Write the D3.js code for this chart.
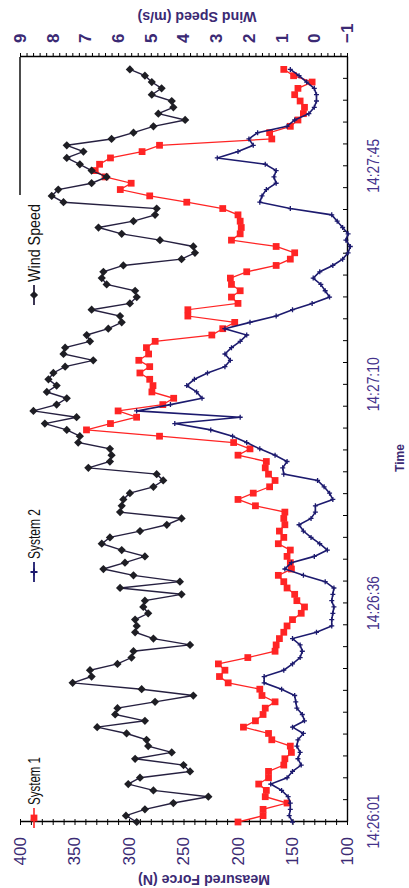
<!DOCTYPE html>
<html>
<head>
<meta charset="utf-8">
<script src="https://cdn.jsdelivr.net/npm/d3@7"></script>
<style>
    body { margin: 0; background: #fff; }
    svg { display: block; font-family: "Liberation Sans", Arial, sans-serif; }
</style>
</head>
<body>
<div class="chart"></div>
<script>
// ------------------------------------------------ Data ------------------------------------------------------------

// one sample per second, axis runs 0.0014 days (120.96 s) with a major unit of 0.0004 days
const timeLabels = ["14:26:01", "14:26:36", "14:27:10", "14:27:45"];
const timeLabelSeconds = [0, 34.56, 69.12, 103.68];
const axisEndSeconds = 120.96;
const minorStepSeconds = 3.456;

const seriesNames = ["System 1", "System 2", "Wind Speed"];
const forceTicks = [100, 150, 200, 250, 300, 350, 400];
const windTicks = [-1, 0, 1, 2, 3, 4, 5, 6, 7, 8, 9];

// measured force (N)
const system1 = [
    200, 177, 177, 155, 175, 174, 181, 172, 172, 158,
    157, 151, 152, 169, 172, 195, 184, 177, 175, 166,
    178, 180, 209, 217, 212, 218, 191, 166, 165, 162,
    158, 155, 150, 142, 139, 146, 148, 155, 158, 163,
    151, 152, 155, 152, 163, 158, 162, 157, 158, 157,
    184, 200, 186, 171, 166, 172, 175, 174, 200, 189,
    204, 272, 339, 317, 293, 310, 269, 259, 279, 278,
    281, 290, 281, 291, 282, 284, 276, 224, 214, 203,
    246, 246, 200, 206, 198, 206, 207, 192, 165, 152,
    148, 165, 206, 198, 197, 198, 200, 214, 247, 281,
    308, 298, 322, 331, 327, 317, 288, 272, 169, 171,
    152, 145, 140, 139, 143, 148, 145, 132, 149, 158
];

const system2 = [
    150, 153, 152, 152, 154, 160, 170, 155, 150, 142,
    145, 143, 146, 145, 140, 150, 139, 141, 146, 147,
    148, 160, 176, 176, 158, 150, 143, 141, 143, 150,
    128, 114, 114, 113, 112, 114, 113, 112, 120, 140,
    157, 151, 130, 118, 125, 133, 140, 144, 133, 129,
    129, 113, 116, 121, 127, 158, 159, 155, 166, 180,
    192, 205, 225, 258, 198, 293, 262, 233, 238, 247,
    240, 228, 212, 207, 212, 206, 198, 192, 212, 189,
    165, 150, 132, 116, 120, 124, 131, 125, 113, 104,
    99, 97, 101, 99, 104, 109, 114, 152, 180, 178,
    174, 165, 167, 165, 175, 219, 200, 186, 190, 182,
    155, 148, 135, 130, 128, 128, 130, 137, 144, 152
];

// wind speed (m/s)
const windSpeed = [
    5.43, 5.76, 5.18, 4.31, 3.24, 4.92, 5.69, 5.33, 3.80, 4.00,
    5.48, 4.36, 5.08, 5.13, 5.74, 6.64, 5.18, 6.09, 6.02, 4.87,
    3.70, 5.28, 7.39, 6.81, 6.86, 6.02, 5.59, 5.53, 3.80, 4.92,
    5.48, 5.43, 5.48, 5.08, 5.23, 5.18, 4.06, 5.94, 4.11, 5.53,
    6.45, 5.79, 5.18, 5.89, 6.50, 6.25, 5.33, 4.51, 4.06, 5.94,
    5.89, 5.84, 5.64, 4.92, 4.62, 4.82, 6.91, 6.25, 6.20, 6.25,
    7.22, 7.17, 7.57, 8.24, 7.27, 8.59, 7.88, 7.57, 8.18, 7.88,
    8.13, 7.98, 7.62, 6.76, 7.67, 7.62, 6.86, 6.96, 6.30, 5.89,
    5.94, 6.81, 5.64, 5.43, 5.48, 6.35, 6.50, 6.45, 5.84, 4.06,
    3.65, 3.70, 4.72, 5.89, 6.60, 5.53, 4.87, 4.82, 7.67, 8.03,
    7.83, 6.81, 6.35, 6.81, 7.17, 7.57, 7.06, 7.57, 6.20, 5.53,
    4.92, 3.95, 4.77, 4.31, 4.36, 4.97, 4.67, 4.97, 5.18, 5.64
];

const colors = { system1: "#ff2424", system2: "#1c1a6e", wind: "#262040", text: "#3b2a74" };

// ------------------------------------------------ Chart -----------------------------------------------------------

function createChart() {
    const W = 409;
    const H = 888;

    const svg = d3.select(".chart")
        .append("svg")
        .attr("width", W)
        .attr("height", H);

    // the chart is laid out in landscape and turned a quarter turn anticlockwise
    const g = svg.append("g")
        .attr("transform", "translate(0," + H + ") rotate(-90)");

    const plot = { left: 66, right: 831, top: 20, bottom: 347 };

    const x = d3.scaleLinear().domain([0, axisEndSeconds]).range([plot.left, plot.right]);
    const yF = d3.scaleLinear().domain([100, 400]).range([plot.bottom, plot.top]);
    const yW = d3.scaleLinear().domain([-1, 9]).range([plot.bottom, plot.top]);

    // ---- time axis (bottom)
    const xMinor = d3.range(0, axisEndSeconds + 0.01, minorStepSeconds);
    g.append("g")
        .attr("transform", "translate(0," + plot.bottom + ")")
        .call(d3.axisBottom(x).tickValues(xMinor).tickSizeInner(-4).tickSizeOuter(0).tickFormat(""));

    const xLab = g.append("g")
        .attr("transform", "translate(0," + plot.bottom + ")")
        .call(d3.axisBottom(x).tickValues(timeLabelSeconds).tickSize(0).tickPadding(20)
            .tickFormat((d, i) => timeLabels[i]));
    xLab.select(".domain").remove();
    xLab.selectAll("text")
        .attr("font-size", 17)
        .attr("font-family", "Liberation Sans")
        .attr("fill", "#45338c")
        .attr("textLength", 54)
        .attr("lengthAdjust", "spacingAndGlyphs");

    // ---- force axis (left)
    const fMinor = d3.range(100, 401, 10);
    g.append("g")
        .attr("transform", "translate(" + plot.left + ",0)")
        .call(d3.axisLeft(yF).tickValues(fMinor).tickSizeInner(3).tickSizeOuter(0).tickFormat(""));
    g.append("g")
        .attr("transform", "translate(" + plot.left + ",0)")
        .call(d3.axisLeft(yF).tickValues(fMinor).tickSizeInner(-3).tickSizeOuter(0).tickFormat(""))
        .select(".domain").remove();

    const fLab = g.append("g")
        .attr("transform", "translate(" + plot.left + ",0)")
        .call(d3.axisLeft(yF).tickValues(forceTicks).tickSize(0).tickPadding(15));
    fLab.select(".domain").remove();
    fLab.selectAll("text")
        .attr("font-size", 17)
        .attr("font-family", "Liberation Sans")
        .attr("fill", colors.text);

    // ---- wind speed axis (right)
    const wMinor = d3.range(-1, 9.01, 0.2);
    g.append("g")
        .attr("transform", "translate(" + plot.right + ",0)")
        .call(d3.axisRight(yW).tickValues(wMinor).tickSizeInner(4).tickSizeOuter(0).tickFormat(""));

    const wLab = g.append("g")
        .attr("transform", "translate(" + plot.right + ",0)")
        .call(d3.axisRight(yW).tickValues(windTicks).tickSize(0).tickPadding(14));
    wLab.select(".domain").remove();
    wLab.selectAll("text")
        .attr("font-size", 17)
        .attr("font-weight", "bold")
        .attr("font-family", "Liberation Sans")
        .attr("fill", colors.text);

    g.selectAll(".domain").attr("stroke", "#000").attr("stroke-width", 1.4);
    g.selectAll(".tick line").attr("stroke", "#000").attr("stroke-width", 1);

    // piece of the top frame that the legend does not cover
    g.append("line")
        .attr("x1", 693).attr("x2", plot.right)
        .attr("y1", plot.top).attr("y2", plot.top)
        .attr("stroke", "#000").attr("stroke-width", 1.4);

    // ---- axis titles
    g.append("text")
        .attr("transform", "translate(13,204) rotate(-90)")
        .attr("text-anchor", "middle")
        .attr("font-size", 14).attr("font-weight", "bold")
        .attr("fill", colors.text)
        .attr("textLength", 132).attr("lengthAdjust", "spacingAndGlyphs")
        .text("Measured Force (N)");

    g.append("text")
        .attr("transform", "translate(876,197) rotate(-90)")
        .attr("text-anchor", "middle")
        .attr("font-size", 14).attr("font-weight", "bold")
        .attr("fill", colors.text)
        .attr("textLength", 119).attr("lengthAdjust", "spacingAndGlyphs")
        .text("Wind Speed (m/s)");

    g.append("text")
        .attr("x", 430).attr("y", 404)
        .attr("text-anchor", "middle")
        .attr("font-size", 12).attr("font-weight", "bold")
        .attr("fill", colors.text)
        .text("Time");

    // ---- series
    const lineF = d3.line().x((d, i) => x(i)).y(d => yF(d));
    const lineW = d3.line().x((d, i) => x(i)).y(d => yW(d));

    const squarePath = d3.symbol(d3.symbolSquare, 46)();
    const diamondPath = d3.symbol(d3.symbolSquare, 34)();
    const plusPath = "M-2.5,0H2.5M0,-2.5V2.5";

    g.append("path")
        .attr("d", lineF(system1))
        .attr("fill", "none")
        .attr("stroke", colors.system1)
        .attr("stroke-width", 1.3);
    g.append("g").selectAll("path")
        .data(system1)
        .join("path")
        .attr("d", squarePath)
        .attr("transform", (d, i) => "translate(" + x(i) + "," + yF(d) + ")")
        .attr("fill", colors.system1);

    g.append("path")
        .attr("d", lineF(system2))
        .attr("fill", "none")
        .attr("stroke", colors.system2)
        .attr("stroke-width", 1.6);
    g.append("g").selectAll("path")
        .data(system2)
        .join("path")
        .attr("d", plusPath)
        .attr("transform", (d, i) => "translate(" + x(i) + "," + yF(d) + ")")
        .attr("stroke", colors.system2)
        .attr("stroke-width", 1.3);

    g.append("path")
        .attr("d", lineW(windSpeed))
        .attr("fill", "none")
        .attr("stroke", colors.wind)
        .attr("stroke-width", 1.4);
    g.append("g").selectAll("path")
        .data(windSpeed)
        .join("path")
        .attr("d", diamondPath)
        .attr("transform", (d, i) => "translate(" + x(i) + "," + yW(d) + ") rotate(45)")
        .attr("fill", "#1e1e24");

    // ---- legend
    const legendPos = [70, 316, 593];
    const legendLen = [48, 50, 78];
    const legendV = 34;

    seriesNames.forEach((name, k) => {
        const u = legendPos[k];
        const item = g.append("g");
        const col = k == 0 ? colors.system1 : (k == 1 ? colors.system2 : colors.wind);
        item.append("line")
            .attr("x1", u - 10).attr("x2", u + 10)
            .attr("y1", legendV).attr("y2", legendV)
            .attr("stroke", col).attr("stroke-width", k == 0 ? 1.6 : 1.8);
        if (k == 0) {
            item.append("path").attr("d", squarePath)
                .attr("transform", "translate(" + u + "," + legendV + ")")
                .attr("fill", col);
        } else if (k == 1) {
            item.append("path").attr("d", plusPath)
                .attr("transform", "translate(" + u + "," + legendV + ") scale(1.4)")
                .attr("stroke", col).attr("stroke-width", 1.3);
        } else {
            item.append("path").attr("d", diamondPath)
                .attr("transform", "translate(" + u + "," + legendV + ") rotate(45)")
                .attr("fill", "#1e1e24");
        }
        item.append("text")
            .attr("x", u + 13).attr("y", legendV + 6)
            .attr("font-size", 17)
            .attr("fill", "#111")
            .attr("textLength", legendLen[k])
            .attr("lengthAdjust", "spacingAndGlyphs")
            .text(name);
    });
}

createChart();
</script>
</body>
</html>
